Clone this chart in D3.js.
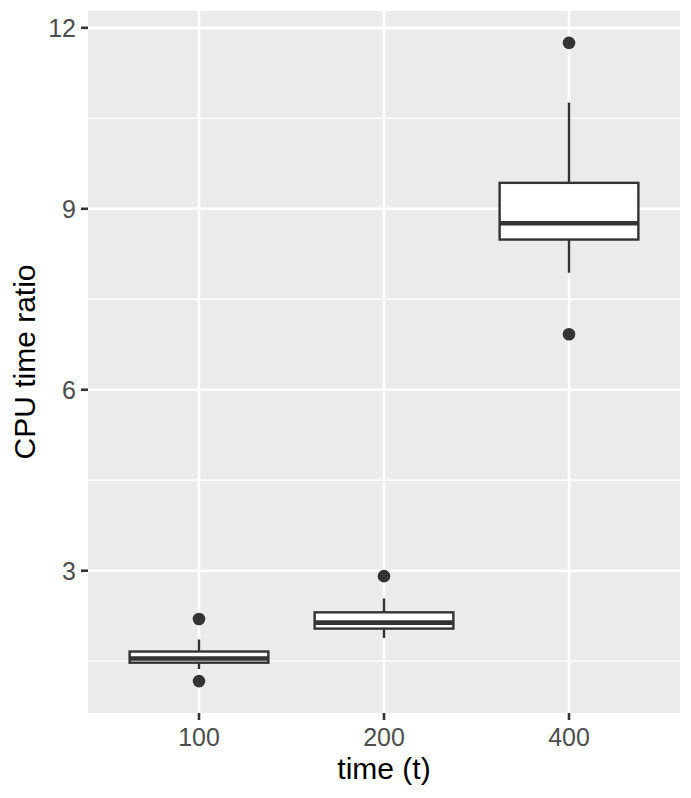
<!DOCTYPE html>
<html>
<head>
<meta charset="utf-8">
<script src="https://cdn.jsdelivr.net/npm/d3@7"></script>
<style>
  body { margin: 0; background: #fff; }
  svg { display: block; font-family: "Liberation Sans", Arial, sans-serif; }
</style>
</head>
<body>
<div id="chart"></div>
<script>
// categories and box stats
const categories = ["100", "200", "400"];
const lowerWhisker = [1.37, 1.885, 7.94];
const q1 = [1.475, 2.04, 8.49];
const median = [1.545, 2.14, 8.76];
const q3 = [1.66, 2.31, 9.43];
const upperWhisker = [1.86, 2.54, 10.76];
const outliers = [[2.2, 1.17], [2.91], [11.75, 6.92]];
const yTicks = [3, 6, 9, 12];
const yMinor = [1.5, 4.5, 7.5, 10.5];

const width = 691, height = 798;
const margin = {top: 11, right: 11, bottom: 85, left: 88};

const svg = d3.select("#chart").append("svg")
  .attr("width", width)
  .attr("height", height);

const boxes = categories.map((c, i) => ({
  cat: c, lo: lowerWhisker[i], q1: q1[i], med: median[i], q3: q3[i], hi: upperWhisker[i], out: outliers[i]
}));

// ggplot style: discrete axis expand 0.6, continuous 5%
const x = d3.scalePoint()
  .domain(categories)
  .range([margin.left, width - margin.right])
  .padding(0.6);
const step = x.step();

const allVals = boxes.flatMap(d => [d.lo, d.hi, ...d.out]);
const lo = d3.min(allVals), hi = d3.max(allVals);
const pad = (hi - lo) * 0.05;
const y = d3.scaleLinear()
  .domain([lo - pad, hi + pad])
  .range([height - margin.bottom, margin.top]);

// panel
svg.append("rect")
  .attr("x", margin.left).attr("y", margin.top)
  .attr("width", width - margin.right - margin.left)
  .attr("height", height - margin.bottom - margin.top)
  .attr("fill", "#ebebeb");

// grid
svg.selectAll(".minor").data(yMinor).enter().append("line")
  .attr("x1", margin.left).attr("x2", width - margin.right)
  .attr("y1", d => y(d)).attr("y2", d => y(d))
  .attr("stroke", "#fff").attr("stroke-width", 1.3);
svg.selectAll(".major").data(yTicks).enter().append("line")
  .attr("x1", margin.left).attr("x2", width - margin.right)
  .attr("y1", d => y(d)).attr("y2", d => y(d))
  .attr("stroke", "#fff").attr("stroke-width", 2.6);
svg.selectAll(".vgrid").data(categories).enter().append("line")
  .attr("x1", d => x(d)).attr("x2", d => x(d))
  .attr("y1", margin.top).attr("y2", height - margin.bottom)
  .attr("stroke", "#fff").attr("stroke-width", 2.6);

// boxplots
const ink = "#333333";
const bw = step * 0.75;
const g = svg.selectAll(".box").data(boxes).enter().append("g");

g.append("line")
  .attr("x1", d => x(d.cat)).attr("x2", d => x(d.cat))
  .attr("y1", d => y(d.hi)).attr("y2", d => y(d.q3))
  .attr("stroke", ink).attr("stroke-width", 2.4);
g.append("line")
  .attr("x1", d => x(d.cat)).attr("x2", d => x(d.cat))
  .attr("y1", d => y(d.q1)).attr("y2", d => y(d.lo))
  .attr("stroke", ink).attr("stroke-width", 2.4);
g.append("rect")
  .attr("x", d => x(d.cat) - bw / 2)
  .attr("y", d => y(d.q3))
  .attr("width", bw)
  .attr("height", d => y(d.q1) - y(d.q3))
  .attr("fill", "#fff").attr("stroke", ink).attr("stroke-width", 2.4);
g.append("line")
  .attr("x1", d => x(d.cat) - bw / 2).attr("x2", d => x(d.cat) + bw / 2)
  .attr("y1", d => y(d.med)).attr("y2", d => y(d.med))
  .attr("stroke", ink).attr("stroke-width", 4.6);
g.selectAll("circle").data(d => d.out.map(v => ({cat: d.cat, v}))).enter().append("circle")
  .attr("cx", d => x(d.cat)).attr("cy", d => y(d.v))
  .attr("r", 6.3).attr("fill", ink);

// axes
const tickLen = 7;
const yAxis = svg.append("g");
yAxis.selectAll("line").data(yTicks).enter().append("line")
  .attr("x1", margin.left - tickLen).attr("x2", margin.left)
  .attr("y1", d => y(d)).attr("y2", d => y(d))
  .attr("stroke", ink).attr("stroke-width", 2.6);
yAxis.selectAll("text").data(yTicks).enter().append("text")
  .attr("x", margin.left - tickLen - 5)
  .attr("y", d => y(d))
  .attr("dy", "0.36em")
  .attr("text-anchor", "end")
  .attr("font-size", 25).attr("fill", "#4d4d4d")
  .text(d => d);

const xAxis = svg.append("g");
const yb = height - margin.bottom;
xAxis.selectAll("line").data(categories).enter().append("line")
  .attr("x1", d => x(d)).attr("x2", d => x(d))
  .attr("y1", yb).attr("y2", yb + tickLen)
  .attr("stroke", ink).attr("stroke-width", 2.6);
xAxis.selectAll("text").data(categories).enter().append("text")
  .attr("x", d => x(d))
  .attr("y", yb + 33)
  .attr("text-anchor", "middle")
  .attr("font-size", 25).attr("fill", "#4d4d4d")
  .text(d => d);

// titles
svg.append("text")
  .attr("x", (margin.left + width - margin.right) / 2)
  .attr("y", 779)
  .attr("text-anchor", "middle")
  .attr("font-size", 30).attr("fill", "#000")
  .text("time (t)");
svg.append("text")
  .attr("transform", `translate(35,${(margin.top + height - margin.bottom) / 2}) rotate(-90)`)
  .attr("text-anchor", "middle")
  .attr("font-size", 30).attr("fill", "#000")
  .text("CPU time ratio");
</script>
</body>
</html>
